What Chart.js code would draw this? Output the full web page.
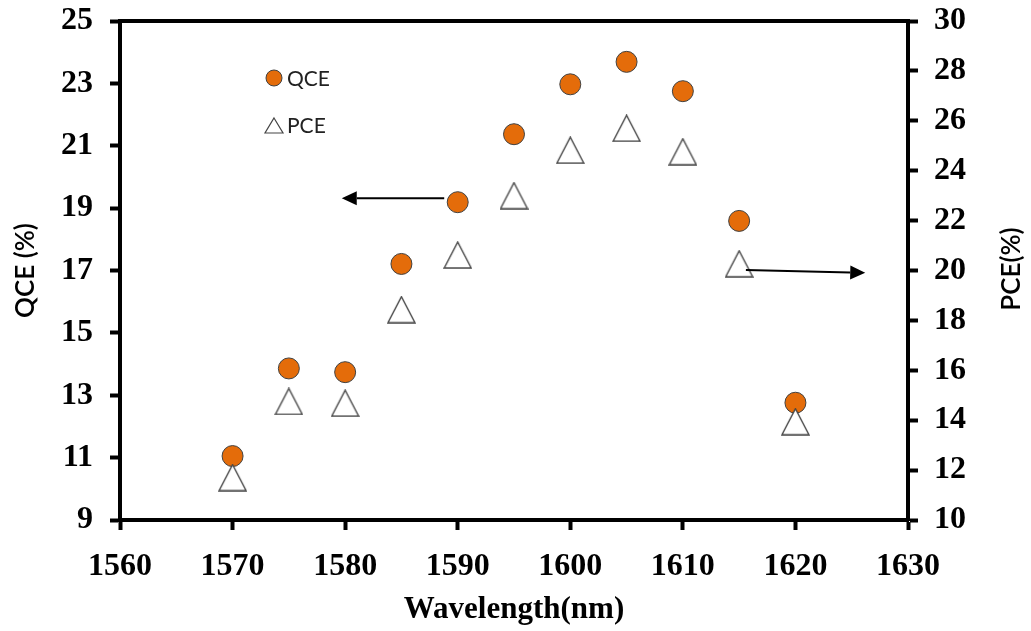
<!DOCTYPE html>
<html>
<head>
<meta charset="utf-8">
<title>QCE / PCE vs wavelength</title>
<script src="https://cdn.jsdelivr.net/npm/chart.js@4.4.1/dist/chart.umd.min.js"></script>
<style>
  html, body { margin: 0; padding: 0; background: #fff; }
  #wrap { width: 1031px; height: 631px; }
</style>
</head>
<body>
<div id="wrap"><canvas id="effChart"></canvas></div>
<script>
// Measured efficiencies per pump wavelength
const wavelengths = [1570, 1575, 1580, 1585, 1590, 1595, 1600, 1605, 1610, 1615, 1620];
const qceValues = [11.05, 13.86, 13.74, 17.21, 19.19, 21.37, 22.97, 23.69, 22.75, 18.59, 12.76];
const pceValues = [11.70, 14.75, 14.68, 18.43, 20.62, 23.00, 24.82, 25.70, 24.76, 20.27, 13.94];

// Axis ticks
const xTicks = [1560, 1570, 1580, 1590, 1600, 1610, 1620, 1630];
const qceTicks = [9, 11, 13, 15, 17, 19, 21, 23, 25];
const pceTicks = [10, 12, 14, 16, 18, 20, 22, 24, 26, 28, 30];

// Arrows pointing each series to its axis (data units: [wavelength, value])
const qceArrow = { from: [1588.8, 19.32], to: [1579.7, 19.32] };
const pceArrow = { from: [1615.6, 20.02], to: [1626.2, 19.91] };

const ORANGE = '#E46C0A';
const SERIF = "'Liberation Serif', 'Times New Roman', serif";
const SANS = "Lato, 'Open Sans', sans-serif";

// open triangle marker
function makeTriangle(w, h, lw) {
    const c = document.createElement('canvas');
    c.width = w + 2;
    c.height = h + 2;
    const g = c.getContext('2d');
    g.beginPath();
    g.moveTo(c.width / 2, 1);
    g.lineTo(c.width - 1, c.height - 1);
    g.lineTo(1, c.height - 1);
    g.closePath();
    g.fillStyle = '#fff';
    g.fill();
    g.strokeStyle = '#444';
    g.lineWidth = lw;
    g.stroke();
    return c;
}

const bigTriangle = makeTriangle(27, 26, 1.4);

function useTicks(values) {
    return function(scale) {
        scale.ticks = values.map(v => ({ value: v }));
    };
}

// fixed box sizes so the plot area lands where we want it
function fixSize(width, height) {
    return function(scale) {
        if (width) scale.width = width;
        if (height) scale.height = height;
        scale.paddingTop = 0;
        scale.paddingBottom = 0;
        scale.paddingLeft = 0;
        scale.paddingRight = 0;
    };
}

const plainNumber = v => String(v);

const axisBorder = { display: true, color: '#000', width: 4 };
const axisGrid = { drawOnChartArea: false, drawTicks: true, tickLength: 10, tickWidth: 4, tickColor: '#000' };
const tickFont = { family: SERIF, weight: 'bold', size: 32 };

function drawArrow(ctx, x1, y1, x2, y2) {
    const ang = Math.atan2(y2 - y1, x2 - x1);
    const len = 15, half = 7;
    const bx = x2 - Math.cos(ang) * len;
    const by = y2 - Math.sin(ang) * len;
    ctx.beginPath();
    ctx.moveTo(x1, y1);
    ctx.lineTo(bx, by);
    ctx.lineWidth = 2;
    ctx.strokeStyle = '#000';
    ctx.stroke();
    ctx.beginPath();
    ctx.moveTo(x2, y2);
    ctx.lineTo(bx - Math.sin(ang) * half, by + Math.cos(ang) * half);
    ctx.lineTo(bx + Math.sin(ang) * half, by - Math.cos(ang) * half);
    ctx.closePath();
    ctx.fillStyle = '#000';
    ctx.fill();
}

// Frame top, arrows, legend and right-hand title
const decorations = {
    id: 'decorations',
    afterDraw(chart) {
        const ctx = chart.ctx;
        const area = chart.chartArea;
        const sx = chart.scales.x, sy = chart.scales.y, sy2 = chart.scales.y2;
        ctx.save();

        ctx.beginPath();
        ctx.moveTo(area.left - 2, area.top);
        ctx.lineTo(area.right + 2, area.top);
        ctx.lineWidth = 4;
        ctx.strokeStyle = '#000';
        ctx.stroke();

        drawArrow(ctx,
            sx.getPixelForValue(qceArrow.from[0]), sy.getPixelForValue(qceArrow.from[1]),
            sx.getPixelForValue(qceArrow.to[0]), sy.getPixelForValue(qceArrow.to[1]));
        drawArrow(ctx,
            sx.getPixelForValue(pceArrow.from[0]), sy2.getPixelForValue(pceArrow.from[1]),
            sx.getPixelForValue(pceArrow.to[0]), sy2.getPixelForValue(pceArrow.to[1]));

        // legend
        const lx = 274;
        ctx.beginPath();
        ctx.arc(lx, 78, 8, 0, Math.PI * 2);
        ctx.fillStyle = ORANGE;
        ctx.fill();
        ctx.lineWidth = 1;
        ctx.strokeStyle = '#404040';
        ctx.stroke();

        ctx.beginPath();
        ctx.moveTo(lx, 118);
        ctx.lineTo(lx + 9, 133);
        ctx.lineTo(lx - 9, 133);
        ctx.closePath();
        ctx.fillStyle = '#fff';
        ctx.fill();
        ctx.lineWidth = 1.2;
        ctx.strokeStyle = '#444';
        ctx.stroke();

        ctx.fillStyle = '#222';
        ctx.font = '21px ' + SANS;
        ctx.textAlign = 'left';
        ctx.textBaseline = 'middle';
        ctx.fillText('QCE', 287, 79);
        ctx.fillText('PCE', 287, 126);

        // right axis title, reading bottom to top
        ctx.translate(1012, 269);
        ctx.rotate(-Math.PI / 2);
        ctx.textAlign = 'center';
        ctx.fillStyle = '#000';
        ctx.font = '600 26px ' + SANS;
        ctx.fillText('PCE(%)', 0, 0);
        ctx.restore();
    }
};

new Chart(document.getElementById('effChart'), {
    type: 'scatter',
    data: {
        datasets: [
            {
                label: 'QCE',
                data: wavelengths.map((w, i) => ({ x: w, y: qceValues[i] })),
                yAxisID: 'y',
                pointStyle: 'circle',
                pointRadius: 10.5,
                pointHoverRadius: 10.5,
                backgroundColor: ORANGE,
                borderColor: '#404040',
                borderWidth: 1,
                order: 2
            },
            {
                label: 'PCE',
                data: wavelengths.map((w, i) => ({ x: w, y: pceValues[i] })),
                yAxisID: 'y2',
                pointStyle: bigTriangle,
                pointRadius: 14,
                order: 1
            }
        ]
    },
    options: {
        responsive: true,
        maintainAspectRatio: false,
        animation: false,
        layout: { padding: { top: 21, left: 0, right: 0, bottom: 0 } },
        plugins: {
            legend: { display: false },
            tooltip: { enabled: false }
        },
        scales: {
            x: {
                type: 'linear',
                position: 'bottom',
                min: 1560,
                max: 1630,
                afterBuildTicks: useTicks(xTicks),
                afterFit: fixSize(0, 111),
                border: axisBorder,
                grid: axisGrid,
                ticks: { color: '#000', font: tickFont, padding: 18, maxRotation: 0, callback: plainNumber },
                title: {
                    display: true,
                    text: 'Wavelength(nm)',
                    color: '#000',
                    font: { family: SERIF, weight: 'bold', size: 31 },
                    padding: { top: 0, bottom: 2 }
                }
            },
            y: {
                type: 'linear',
                position: 'left',
                min: 9,
                max: 25,
                afterBuildTicks: useTicks(qceTicks),
                afterFit: fixSize(120, 0),
                border: axisBorder,
                grid: axisGrid,
                ticks: { color: '#000', font: tickFont, padding: 17, callback: plainNumber },
                title: {
                    display: true,
                    text: 'QCE (%)',
                    color: '#000',
                    font: { family: SANS, size: 26, weight: '600' },
                    padding: { top: 10, bottom: 0 }
                }
            },
            y2: {
                type: 'linear',
                position: 'right',
                min: 10,
                max: 30,
                afterBuildTicks: useTicks(pceTicks),
                afterFit: fixSize(123, 0),
                border: axisBorder,
                grid: axisGrid,
                ticks: { color: '#000', font: tickFont, padding: 16, callback: plainNumber }
            }
        }
    },
    plugins: [decorations]
});
</script>
</body>
</html>
